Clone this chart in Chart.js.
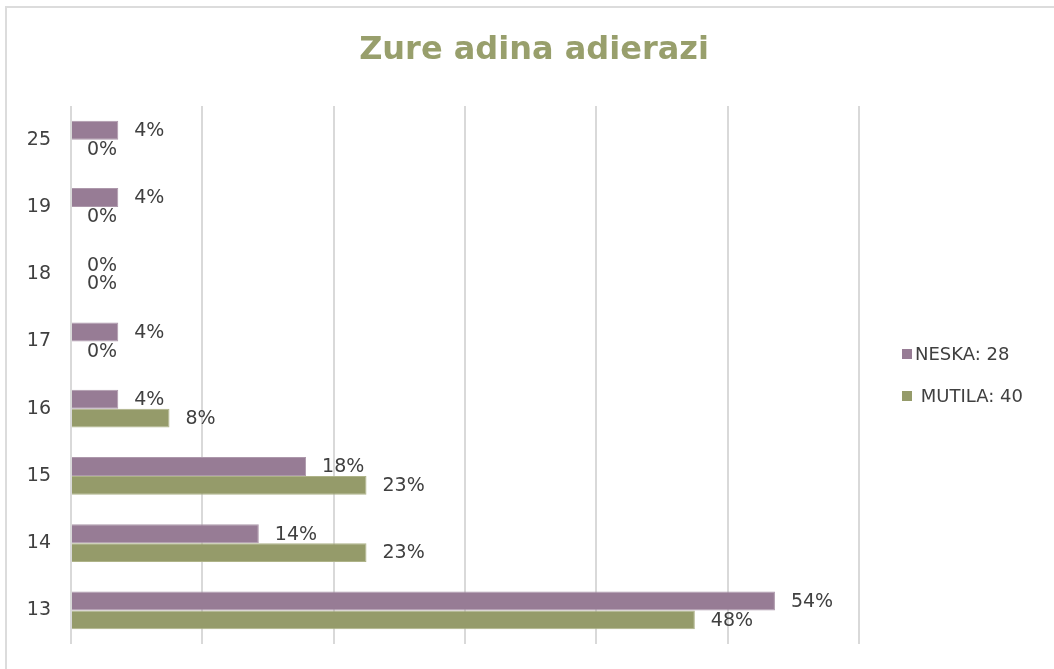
<!DOCTYPE html>
<html>
<head>
<meta charset="utf-8">
<script src="https://cdn.jsdelivr.net/npm/chart.js@4.4.0/dist/chart.umd.min.js"></script>
<style>
  html, body { margin: 0; padding: 0; background: #fff; overflow: hidden; }
  #chart { display: block; }
</style>
</head>
<body>
<canvas id="chart" width="1054" height="669"></canvas>
<script>
// categories (ages), bottom to top
var ages = ['13', '14', '15', '16', '17', '18', '19', '25'];
// share of answers in %
var neska = [53.6, 14.3, 17.9, 3.6, 3.6, 0, 3.6, 3.6];
var mutila = [47.5, 22.5, 22.5, 7.5, 0, 0, 0, 0];
var seriesNames = ['NESKA: 28', ' MUTILA: 40'];
var xTicks = [0, 10, 20, 30, 40, 50, 60];

var purple = '#977c95';
var green = '#959b6a';
var textColor = '#404040';
var fontName = 'DejaVu Sans';

// the outer frame of the picture (only left and top edges are visible)
var frame = {
    id: 'frame',
    beforeDraw: function (chart) {
        var ctx = chart.ctx;
        ctx.save();
        ctx.strokeStyle = '#dcdcdc';
        ctx.lineWidth = 2;
        ctx.beginPath();
        ctx.moveTo(6, chart.height);
        ctx.lineTo(6, 7);
        ctx.lineTo(chart.width, 7);
        ctx.stroke();
        ctx.restore();
    }
};

// value labels at the end of each bar
var barLabels = {
    id: 'barLabels',
    afterDatasetsDraw: function (chart) {
        var ctx = chart.ctx;
        ctx.save();
        ctx.font = '19px "' + fontName + '"';
        ctx.fillStyle = textColor;
        ctx.textAlign = 'left';
        ctx.textBaseline = 'middle';
        chart.data.datasets.forEach(function (ds, i) {
            chart.getDatasetMeta(i).data.forEach(function (bar, j) {
                ctx.fillText(Math.round(ds.data[j]) + '%', bar.x + 16, bar.y + 1);
            });
        });
        ctx.restore();
    }
};

// legend drawn to the right of the plot
var sideLegend = {
    id: 'sideLegend',
    afterDraw: function (chart) {
        var ctx = chart.ctx;
        var x = chart.chartArea.right + 43;
        var ys = [354, 396];
        ctx.save();
        ctx.font = '18px "' + fontName + '"';
        ctx.textBaseline = 'middle';
        chart.data.datasets.forEach(function (ds, i) {
            ctx.fillStyle = ds.backgroundColor;
            ctx.fillRect(x, ys[i] - 5, 10, 10);
            ctx.fillStyle = textColor;
            ctx.fillText(ds.label, x + 13, ys[i] + 1);
        });
        ctx.restore();
    }
};

new Chart(document.getElementById('chart').getContext('2d'), {
    type: 'bar',
    data: {
        labels: ages,
        datasets: [
            {
                label: seriesNames[0],
                data: neska,
                backgroundColor: purple,
                borderColor: '#ad98ab',
                borderWidth: 1,
                categoryPercentage: 0.56,
                barPercentage: 1.0
            },
            {
                label: seriesNames[1],
                data: mutila,
                backgroundColor: green,
                borderColor: '#aeb388',
                borderWidth: 1,
                categoryPercentage: 0.56,
                barPercentage: 1.0
            }
        ]
    },
    options: {
        indexAxis: 'y',
        responsive: false,
        animation: false,
        layout: { padding: { left: 14, right: 0, top: 0, bottom: 25 } },
        scales: {
            x: {
                min: xTicks[0],
                max: xTicks[xTicks.length - 1],
                afterBuildTicks: function (scale) {
                    scale.ticks = xTicks.map(function (v) { return { value: v }; });
                },
                afterFit: function (scale) { scale.height = 0; },
                ticks: { display: false },
                grid: { color: '#d9d9d9', lineWidth: 2, drawTicks: false },
                border: { display: false }
            },
            y: {
                reverse: true,
                afterFit: function (scale) {
                    scale.width = 57;
                    scale.paddingTop = 0;
                    scale.paddingBottom = 0;
                },
                ticks: { color: textColor, font: { family: fontName, size: 19 }, padding: 20 },
                grid: { display: false, drawTicks: false },
                border: { display: false }
            },
            side: {
                type: 'linear',
                position: 'right',
                display: true,
                afterFit: function (scale) {
                    scale.width = 195;
                    scale.paddingTop = 0;
                    scale.paddingBottom = 0;
                },
                ticks: { display: false },
                grid: { display: false, drawTicks: false },
                border: { display: false }
            }
        },
        plugins: {
            legend: { display: false },
            tooltip: { enabled: false },
            title: {
                display: true,
                text: 'Zure adina adierazi',
                color: '#989f6c',
                font: { family: fontName, size: 32, weight: 'bold', lineHeight: 1 },
                padding: { top: 35, bottom: 39 }
            }
        }
    },
    plugins: [frame, barLabels, sideLegend]
});
</script>
</body>
</html>
